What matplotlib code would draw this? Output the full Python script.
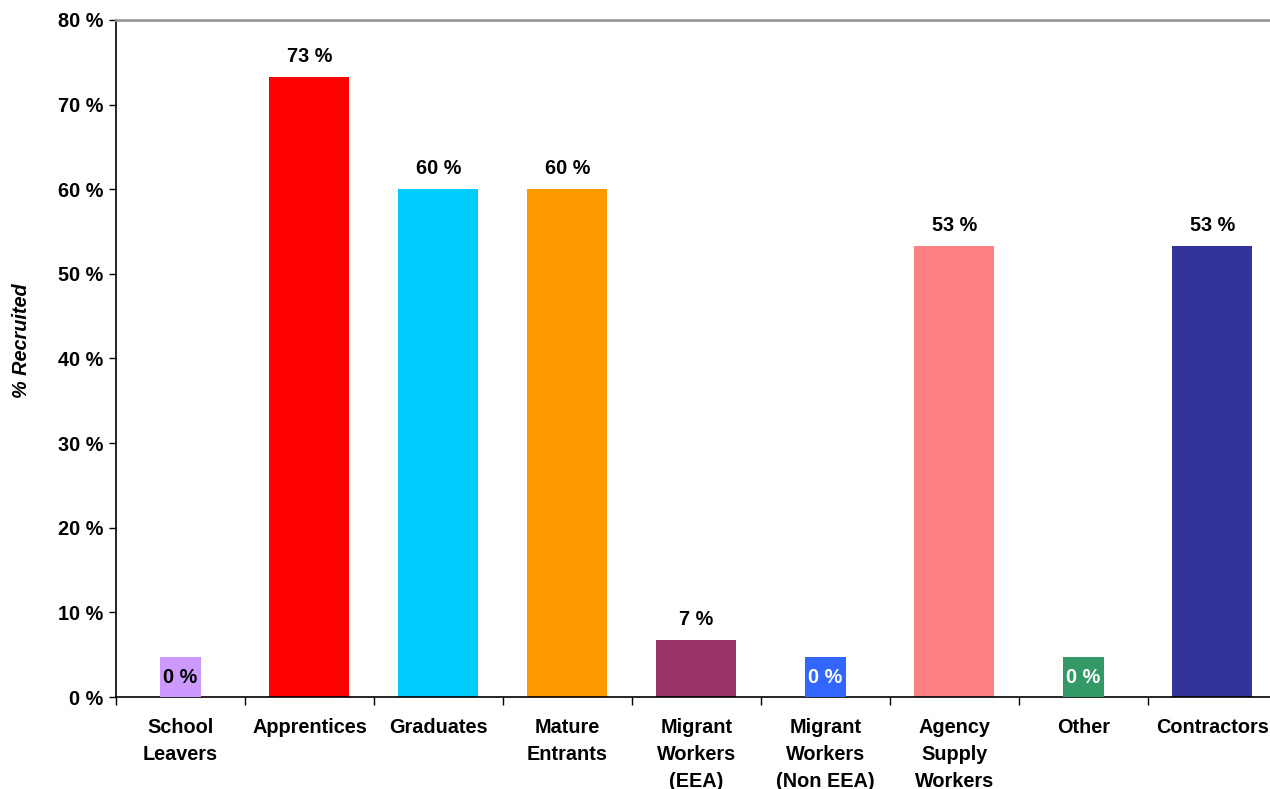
import matplotlib
matplotlib.use("Agg")
import matplotlib.pyplot as plt
from matplotlib.patches import Rectangle
from matplotlib.ticker import FixedLocator, FuncFormatter

plt.rcParams['font.family'] = ['Liberation Sans', 'DejaVu Sans']

categories = ["School\nLeavers", "Apprentices", "Graduates", "Mature\nEntrants",
              "Migrant\nWorkers\n(EEA)", "Migrant\nWorkers\n(Non EEA)",
              "Agency\nSupply\nWorkers", "Other", "Contractors"]
values = [0.0, 73.3, 60.0, 60.0, 6.7, 0.0, 53.3, 0.0, 53.3]
colors = ["#CC99FF", "#FF0000", "#00CCFF", "#FF9900", "#993366",
          "#3366FF", "#FF8080", "#339966", "#333399"]
zero_label_colors = {0: "black", 5: "white", 7: "white"}
yticks = [0, 10, 20, 30, 40, 50, 60, 70, 80]

fig = plt.figure(figsize=(12.7, 7.89), dpi=100)
ax = fig.add_axes([0.0913, 0.1166, 0.9142, 0.8581])

x = list(range(len(categories)))
ax.bar(x, values, width=0.62, color=colors, edgecolor="none", zorder=2)

ax.set_xlim(-0.5, len(categories) - 0.5)
ax.set_ylim(0, 80)

fs = 14.3
for i, v in enumerate(values):
    label = f"{v:.0f} %"
    if v == 0:
        ax.add_patch(Rectangle((i - 0.16, 0), 0.32, 4.7, facecolor=colors[i],
                               edgecolor="none", zorder=3))
        ax.text(i, 2.35, label, ha="center", va="center", fontsize=fs,
                fontweight="bold", color=zero_label_colors.get(i, "black"), zorder=4)
    else:
        ax.annotate(label, (i, v), xytext=(0, 8), textcoords="offset points",
                    ha="center", va="bottom", fontsize=fs, fontweight="bold")

# y axis
ax.yaxis.set_major_locator(FixedLocator(yticks))
ax.yaxis.set_major_formatter(FuncFormatter(lambda val, pos: f"{val:.0f} %"))
ax.tick_params(axis="y", direction="out", length=5, width=1, pad=4, labelsize=fs)
for t in ax.get_yticklabels():
    t.set_fontweight("bold")
ax.set_ylabel("% Recruited", fontsize=fs, fontweight="bold", fontstyle="italic")
ax.yaxis.set_label_coords(-0.073, 0.527)

# x axis: labels at centres, marks at category boundaries
ax.set_xticks(x)
ax.set_xticklabels(categories, fontsize=fs, fontweight="bold", linespacing=1.55,
                   va="top")
ax.tick_params(axis="x", which="major", length=0, pad=15)
ax.set_xticks([i - 0.5 for i in range(len(categories) + 1)], minor=True)
ax.tick_params(axis="x", which="minor", direction="out", length=6, width=1)

ax.spines["top"].set_color("#999999")
ax.spines["top"].set_linewidth(2)
ax.spines["right"].set_visible(False)
ax.spines["left"].set_linewidth(1.2)
ax.spines["bottom"].set_linewidth(1.2)

fig.savefig("out.png", dpi=100)
